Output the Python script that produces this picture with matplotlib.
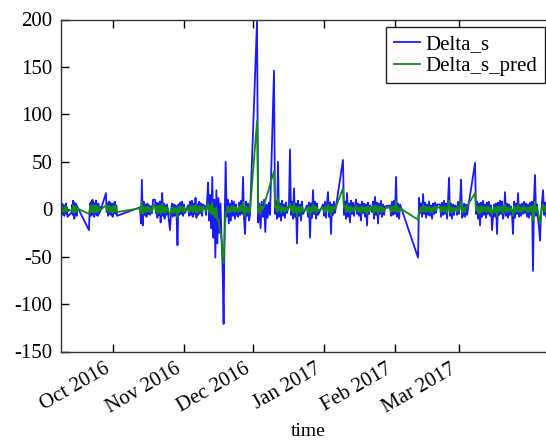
import matplotlib
matplotlib.use("Agg")
import matplotlib.pyplot as plt
import matplotlib.dates as mdates
import pandas as pd

# blocks of samples: start time, end time, values (Delta_s and its prediction)
block_start = [
    "2016-09-07 22:30", "2016-09-12 23:00", "2016-09-20 09:00", "2016-09-27 19:00",
    "2016-10-12 16:00", "2016-10-19 05:00", "2016-10-25 18:00", "2016-11-02 15:00",
    "2016-11-10 01:00", "2016-11-24 11:00", "2016-12-02 18:00", "2016-12-10 04:00",
    "2016-12-16 17:00", "2016-12-24 14:00", "2016-12-31 14:00", "2017-01-09 07:00",
    "2017-01-14 23:30", "2017-01-21 23:00", "2017-01-29 20:00", "2017-02-11 01:30",
    "2017-02-20 16:00", "2017-02-27 16:00", "2017-03-07 23:00", "2017-03-16 06:00",
    "2017-03-23 16:00", "2017-03-30 05:00", "2017-04-04 11:00",
]
block_end = [
    "2016-09-11 00:00", "2016-09-15 04:00", "2016-09-25 05:00", "2016-10-02 15:00",
    "2016-10-18 08:00", "2016-10-24 11:00", "2016-11-01 07:00", "2016-11-09 04:00",
    "2016-11-24 00:30", "2016-11-29 17:00", "2016-12-08 10:00", "2016-12-15 20:00",
    "2016-12-22 20:00", "2016-12-29 09:00", "2017-01-05 19:00", "2017-01-14 13:00",
    "2017-01-21 02:00", "2017-01-27 16:00", "2017-02-03 05:00", "2017-02-19 09:00",
    "2017-02-27 05:00", "2017-03-04 11:00", "2017-03-15 09:00", "2017-03-23 05:30",
    "2017-03-29 19:00", "2017-04-04 00:30", "2017-04-08 20:00",
]
delta_s = [
    [2, -5, 6, -4, 5, -6, 3, -7, 4, -3, 6, -5, 2, -8],
    [-3, 5, -6, 9, -4, 7, -10, 4, -5, 6, -3, 5, -7, 3],
    [-22, -4, 6, -7, 8, -5, 10, -6, 7, -8, 5, -4, 9, -6, 4, -7, 6, -5, 3, -3],
    [17, -3, 6, -7, 8, -5, 7, -6, 5, -8, 6, -4, 8, -5, 4, -7],
    [2, -15, 31, -17, 8, -6, 5, -8, 6, -5, 4, -6, 3, -4, 10],
    [10, -4, 7, -9, 6, -6, 8, -14, 5, 17, -7, 6, -10, 4, -6, 5],
    [-22, -5, 6, -8, 5, -7, 4, -6, -38, 5, -6, 7, -5, 8, -7, 5, -4],
    [4, -7, 8, -6, 9, -8, 6, -5, 12, -9, 5, -6, 8, -4, 6, -7, 5],
    [3, -6, 8, 28, -12, 15, -20, 34, -30, 10, -51, 20, -36, 12, -25, 6,
     -30, -60, -121, -15, 50, -8, 10, -15, 6, -12, 9, -7, 8, -10, 5, -6],
    [-8, 7, -6, 9, -5, 34, -10, -26, 8, -7, 6, -12, -5],
    [198, -14, 6, -20, 8, -8, 10, -24, 5, -9, 7, -6],
    [146, -5, 8, -10, 50, -8, 6, -12, 9, -7, 5, -9, 7, -4],
    [5, 63, -6, 8, -10, 22, -8, 6, -36, 9, -7, 5, -12, 8, -5],
    [4, -8, 7, -30, 6, -9, 20, -5, 8, -10, 6, -6],
    [5, -7, 8, -9, 6, 18, -8, 7, -26, 5, -6, 8, -4],
    [52, -6, 8, -10, 17, -8, 6, -14, 9, -5, 7, -7, 4],
    [10, -5, 6, -7, 5, -12, 8, -4, 6, -8, 5, -17, 7, -5, 4],
    [-3, 8, -10, 13, -6, 7, -15, 6, -5, 9, -8, 5, -6, 3],
    [4, -7, 8, -6, 9, -5, 34, -8, 6, -10, 5],
    [-51, 12, -4, 6, -8, 16, -5, 7, -9, 5, -6, 8, -7, 4, -10, 6, -5, 7, -4, 5],
    [5, -8, 7, -6, 9, -5, 6, -10, 8, 33, -7, 6, -10, 5, -6, 4],
    [3, -6, 8, -5, 7, 31, -9, -7, 6, -8, 5, -6],
    [49, -5, 8, -10, 6, -17, 7, -8, 9, -6, 5, -9, 7, -5, 8, -7, 4, -22],
    [5, -8, 6, -26, 7, -6, 9, -5, 8, -10, -4, 18, -7, 6, -9, 5, -6],
    [3, -6, -26, 8, -9, 6, -5, 17, -8, 5, -7, 6, -5, 8, -4],
    [6, -8, 5, -9, 7, -6, 8, -65, 10, 36, -7, 5],
    [-10, -20, -33, -5, 8, 20, -6, 7, -8, 5, 3],
]
delta_s_pred = [
    [1, -2, 3, -2, 2, -3, 1, -3, 2, -1, 3, -2, 1, -2],
    [-1, 2, -3, 4, -2, 3, -4, 2, -2, 3, -1, 2, -3, 1],
    [-5, -2, 3, -3, 4, -2, 4, -3, 3, -4, 2, -2, 4, -3, 2, -3, 3, -2, 1, -1],
    [4, -1, 3, -3, 4, -2, 3, -3, 2, -4, 3, -2, 4, -2, 2, -3],
    [1, -4, 8, -5, 3, -3, 2, -3, 3, -2, 2, -3, 1, -2, 4],
    [4, -2, 3, -4, 3, -3, 4, -5, 2, 6, -3, 3, -4, 2, -3, 2],
    [-6, -3, 2, -4, 2, -3, 1, -4, -9, 2, -3, 3, -2, 3, -3, 2, -2],
    [2, -3, 3, -2, 4, -3, 3, -2, 5, -4, 2, -3, 3, -2, 3, -3, 2],
    [1, -2, 3, 6, -3, 4, -5, 7, -6, 1, -9, 2, -12, -10, -18, -24,
     -32, -44, -57, -28, -4, -2, 3, -4, 2, -3, 3, -2, 3, -3, 2, -2],
    [-3, 3, -2, 4, -2, 8, -4, -7, 3, -3, 2, -4, -1],
    [93, -3, 2, -5, 3, 0, 4, 9, 13, 17, 21, 26],
    [40, 2, 3, -3, 12, -2, 3, -4, 3, -2, 2, -3, 2, -1],
    [2, 6, -2, 3, -4, 6, -3, 2, -8, 3, -3, 2, -4, 3, -2],
    [1, -3, 3, -7, 2, -3, 5, -2, 3, -4, 2, -2],
    [2, -3, 3, -3, 2, 5, -3, 3, -7, 2, -2, 3, 0],
    [22, 2, 3, -3, 5, -2, 2, -4, 3, -2, 2, -2, 1],
    [4, -2, 2, -3, 2, -4, 3, -2, 2, -3, 2, -5, 3, -2, 2],
    [-1, 3, -4, 4, -2, 3, -5, 2, -2, 3, -3, 2, -2, 1],
    [2, -3, 3, -2, 3, -2, 9, -3, 2, -3, 1],
    [-11, -3, -1, 2, -3, 5, -2, 3, -3, 2, -2, 3, -3, 1, -4, 2, -2, 3, -1, 2],
    [2, -3, 3, -2, 3, -2, 2, -4, 3, 9, -3, 2, -4, 2, -2, 1],
    [1, -2, 3, -2, 3, 8, -3, -3, 2, -3, 2, 3],
    [17, -1, 3, -4, 2, -5, 3, -3, 3, -2, 2, -3, 3, -2, 3, -3, 1, -6],
    [2, -3, 2, -7, 3, -2, 3, -2, 3, -4, -1, 5, -3, 2, -3, 2, -2],
    [1, -2, -7, 3, -3, 2, -2, 5, -3, 2, -3, 2, -2, 3, -1],
    [2, -3, 2, -3, 3, -2, 3, -12, 2, 8, -3, 2],
    [-4, -8, -15, -6, 2, 5, -2, 3, -3, 2, 1],
]

times, s_vals, p_vals = [], [], []
for start, end, s, p in zip(block_start, block_end, delta_s, delta_s_pred):
    times.extend(pd.date_range(start, end, periods=len(s)))
    s_vals.extend(s)
    p_vals.extend(p)

plt.rcParams['font.family'] = ['Liberation Serif', 'DejaVu Serif']
plt.rcParams['font.size'] = 15
plt.rcParams['axes.unicode_minus'] = False

fig = plt.figure(figsize=(5.46, 4.41), dpi=100)
ax = fig.add_axes([60.5 / 546, 89.5 / 441, 494.8 / 546, 332 / 441])

ax.plot(times, s_vals, color='#1a1aff', lw=1.3, label='Delta_s')
ax.plot(times, p_vals, color='#138a13', lw=1.3, label='Delta_s_pred')

ax.set_xlim(pd.Timestamp("2016-09-07 22:30"), pd.Timestamp("2017-04-12 00:00"))
ax.set_ylim(-150, 200)
ax.set_yticks(range(-150, 201, 50))
ax.xaxis.set_major_locator(mdates.MonthLocator(bymonth=[10, 11, 12, 1, 2, 3]))
ax.xaxis.set_major_formatter(mdates.DateFormatter('%b %Y'))
ax.tick_params(direction='in', top=True, right=True, length=5.5, width=1, pad=6)
plt.setp(ax.get_xticklabels(), rotation=30, ha='right')
for sp in ax.spines.values():
    sp.set_linewidth(1.0)
    sp.set_color('#333333')

ax.set_xlabel('time', fontsize=14, labelpad=4)

fig.legend(loc='upper right', bbox_to_anchor=(545 / 546, 1 - 27.3 / 441),
           bbox_transform=fig.transFigure, borderaxespad=0, fancybox=False,
           edgecolor='#222222', framealpha=1, handlelength=1.25, handletextpad=0.3,
           borderpad=0.35, labelspacing=0.1, fontsize=15)

fig.savefig('out.png', dpi=100)
